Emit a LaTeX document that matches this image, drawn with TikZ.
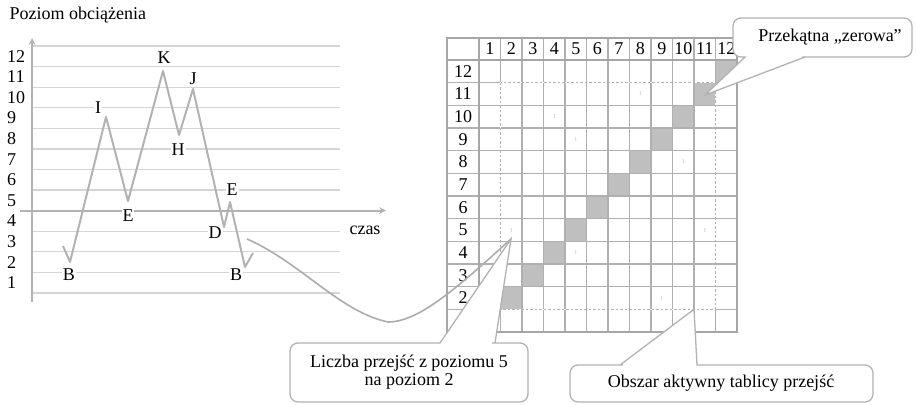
\documentclass[tikz,border=0pt]{standalone}
\usepackage{fontspec}
\setmainfont{Liberation Serif}
\begin{document}
\begin{tikzpicture}[x=1pt,y=-1pt,>=stealth,
  font=\fontsize{18}{18}\selectfont,
  lvl/.style={gray!33,line width=1.3pt},
  axis/.style={->,gray!60,line width=2pt},
  load/.style={gray!60,line width=2pt,line join=round},
  lab/.style={fill=white,inner sep=1pt},
  cellline/.style={gray!62,line width=1.2pt},
  frame/.style={gray!70,line width=2pt},
  cnt/.style={gray!50,font=\fontsize{6}{6}\selectfont,inner sep=0pt},
  callout/.style={draw=gray!60,fill=white,line width=1.3pt},
  conn/.style={gray!65,line width=1.6pt}]
\useasboundingbox (0,0) rectangle (917,404);
\node[anchor=west] (title) at (6,15) {Poziom obciążenia};
\foreach \l in {0,...,12}
  \draw[lvl] (32,{46+20.58*\l}) -- (340,{46+20.58*\l});
\foreach \v in {1,...,12}
  \node[anchor=west,inner sep=0pt] (y\v) at (7,{46+20.58*(12.5-\v)}) {\v};
\draw[axis] (32,302) -- (32,38);
\draw[axis] (20,210.6) -- (386,210.6);
\node[lab] (b1) at (69,275) {B};
\node[lab] (i) at (98,108) {I};
\node[lab] (e1) at (128,216) {E};
\node[lab,inner sep=0.5pt] (k) at (164,58) {K};
\node[lab] (h) at (178,150) {H};
\node[lab,inner sep=0.5pt] (j) at (193,79) {J};
\node[lab] (e2) at (232,190) {E};
\node[lab] (d) at (215,233) {D};
\node[lab] (b2) at (236,275) {B};
\node (czas) at (365,230) {czas};
\draw[load] (63,246) -- (70,262) -- (106,117) -- (128,201) -- (163,71) -- (179,135) -- (193,89) -- (224,227) -- (230,202) -- (245,267) -- (253,253);
\foreach \r in {2,...,12}
  \fill[gray!50] ({479+21.5*(\r-1)},{60+22.67*(12-\r)}) rectangle +(21.5,22.67);
\foreach \i in {1,...,11}
  \draw[cellline] ({479+21.5*\i},38) -- ({479+21.5*\i},332);
\foreach \j in {1,...,11}
  \draw[cellline] (447,{60+22.67*\j}) -- (737,{60+22.67*\j});
\draw[frame,line width=1.6pt] (447,60) -- (737,60);
\draw[frame,line width=1.6pt] (479,38) -- (479,332);
\draw[frame] (447,38) rectangle (737,332);
\foreach \c in {1,...,12}
  \node (h\c) at ({479+21.5*(\c-0.5)},49) {\c};
\foreach \r in {12,...,2}
  \node (r\r) at (463,{60+22.67*(12.5-\r)}) {\r};
\draw[white,line width=1.5pt] (500.5,82.67) rectangle (715.5,309.3);
\draw[gray!60,line width=1.3pt,dash pattern=on 2.5pt off 2pt] (500.5,82.67) rectangle (715.5,309.3);
\foreach \r/\c in {2/9,9/5,5/11,11/8,8/10,10/4,4/5,5/2}
  \node[cnt] (n\r-\c) at ({479+21.5*(\c-0.5)},{60+22.67*(12.5-\r)}) {1};
\coordinate (src) at (247,239);
\coordinate (t52) at (511,239);
\coordinate (tact) at (694,309.3);
\coordinate (tdiag) at (705,95);
\draw[conn] (src) .. controls (300,262) and (340,312) .. (388,322) .. controls (420,322) and (460,285) .. (t52);
\draw[callout] (350,343) [rounded corners=8pt] -- (290,343) -- (290,402) -- (528,402) -- (528,343) -- (500,343) [sharp corners] -- (495,343) -- (t52) -- (440,343) -- (435,343) [rounded corners=8pt] -- cycle;
\node[align=center,inner sep=0pt] (liczba) at (409,372) {Liczba przejść z poziomu 5\\na poziom 2};
\draw[callout] (750,365) [rounded corners=8pt] -- (873,365) -- (873,402) -- (570,402) -- (570,365) -- (615,365) [sharp corners] -- (620,365) -- (tact) -- (697,365) -- (702,365) [rounded corners=8pt] -- cycle;
\node (obszar) at (721,383) {Obszar aktywny tablicy przejść};
\draw[callout] (850,18) [rounded corners=8pt] -- (912,18) -- (912,57) -- (810,57) [sharp corners] -- (805,57) -- (tdiag) -- (745,57) -- (740,57) [rounded corners=8pt] -- (733,57) -- (733,18) -- cycle;
\node (przek) at (830,37) {Przekątna „zerowa”};
\end{tikzpicture}
\end{document}
